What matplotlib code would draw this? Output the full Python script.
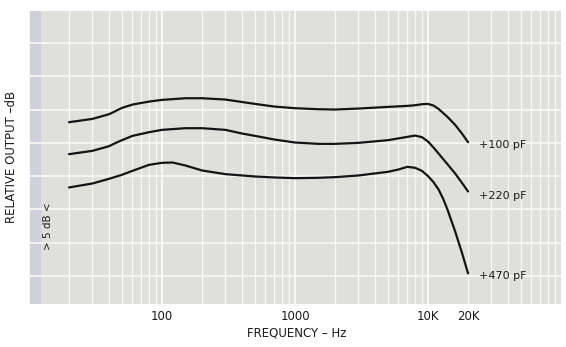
import matplotlib
matplotlib.use("Agg")
import matplotlib.pyplot as plt
import numpy as np

# frequency response (Hz, dB relative)
freq_100 = [20, 30, 40, 45, 50, 60, 80, 100, 150, 200, 300, 500, 700, 1000, 1500, 2000,
            3000, 5000, 7000, 8000, 9000, 10000, 11000, 12000, 14000, 16000, 18000, 20000]
db_100 = [3.1, 3.6, 4.3, 4.8, 5.25, 5.75, 6.2, 6.45, 6.7, 6.7, 6.5, 5.85, 5.45, 5.2, 5.05, 5.0,
          5.15, 5.4, 5.55, 5.65, 5.8, 5.85, 5.6, 5.1, 3.9, 2.7, 1.4, 0.1]

freq_220 = [20, 30, 40, 45, 50, 60, 80, 100, 150, 200, 300, 400, 500, 700, 1000, 1500, 2000,
            3000, 5000, 7000, 8000, 9000, 10000, 11000, 12000, 14000, 16000, 18000, 20000]
db_220 = [-1.7, -1.2, -0.5, 0.0, 0.4, 1.05, 1.6, 1.95, 2.2, 2.2, 1.95, 1.4, 1.05, 0.5, 0.05, -0.15, -0.15,
          0.0, 0.4, 0.9, 1.1, 0.85, 0.2, -0.7, -1.6, -3.2, -4.6, -6.0, -7.3]

freq_470 = [20, 30, 40, 50, 60, 80, 100, 120, 150, 200, 300, 500, 700, 1000, 1500, 2000,
            3000, 5000, 6000, 7000, 8000, 9000, 10000, 11000, 12000, 13000, 14000, 16000, 18000, 20000]
db_470 = [-6.7, -6.1, -5.4, -4.8, -4.2, -3.3, -3.0, -2.95, -3.4, -4.15, -4.7, -5.05, -5.2, -5.3, -5.25, -5.15,
          -4.9, -4.35, -4.0, -3.6, -3.75, -4.2, -5.0, -5.9, -7.0, -8.4, -10.0, -13.3, -16.5, -19.6]

curve_labels = ["+100 pF", "+220 pF", "+470 pF"]
label_db = [-0.3, -8.0, -20.0]

tick_freqs = [100, 1000, 10000, 20000]
tick_text = ["100", "1000", "10K", "20K"]

fig = plt.figure(figsize=(5.66, 3.47), dpi=100)
ax = fig.add_axes([29 / 566, 1 - 304 / 347, 532 / 566, 293 / 347])
ax.set_facecolor("#e0e0db")

ax.set_xscale("log")
ax.set_xlim(10, 100000)
ax.set_ylim(-24.2, 19.8)

# scanner shadow on the left edge of the paper
ax.axvspan(10, 12, color="#cfd0da", zorder=0)

# graph paper grid
grid_x = [k * 10 ** n for n in range(1, 5) for k in range(1, 10)]
for gx in grid_x:
    lw = 1.4 if gx in (10, 100, 1000, 10000) else 0.9
    ax.axvline(gx, color="#f8f8f4", lw=lw, zorder=1)
for gy in range(-20, 20, 5):
    ax.axhline(gy, color="#f8f8f4", lw=1.2, zorder=1)

for f, d in [(freq_100, db_100), (freq_220, db_220), (freq_470, db_470)]:
    ax.plot(f, d, color="#141414", lw=1.6, solid_joinstyle="round",
            solid_capstyle="round", zorder=3)

for txt, yv in zip(curve_labels, label_db):
    ax.text(24000, yv, txt, fontsize=8, ha="left", va="center", color="#1a1a1a")

ax.text(14, -12.5, "> 5 dB <", rotation=90, fontsize=7.5, ha="center", va="center",
        color="#1a1a1a")

ax.xaxis.set_major_locator(matplotlib.ticker.FixedLocator(tick_freqs))
ax.xaxis.set_major_formatter(matplotlib.ticker.FixedFormatter(tick_text))
ax.xaxis.set_minor_locator(matplotlib.ticker.NullLocator())
ax.set_yticks([])
ax.tick_params(axis="x", length=0, pad=4, labelsize=8.5, labelcolor="#1a1a1a")
for s in ax.spines.values():
    s.set_visible(False)

fig.text(297 / 566, 1 - 333 / 347, "FREQUENCY \u2013 Hz", fontsize=8.5,
         ha="center", va="center", color="#1a1a1a")
fig.text(12 / 566, 1 - 157 / 347, "RELATIVE OUTPUT \u2013dB", fontsize=8.5, rotation=90,
         ha="center", va="center", color="#1a1a1a")

fig.savefig("out.png", dpi=100)
